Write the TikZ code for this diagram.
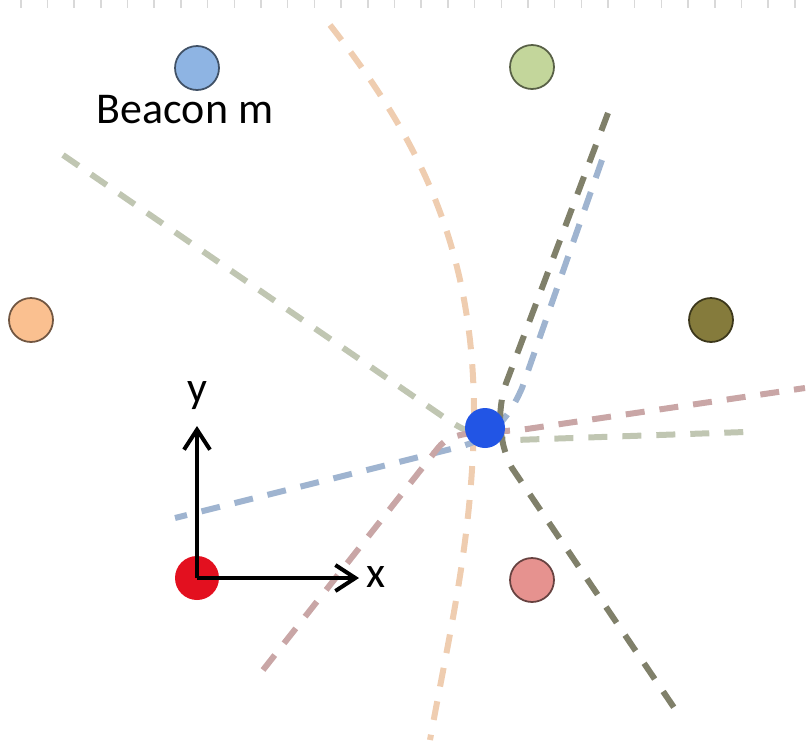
\documentclass[tikz,border=0pt]{standalone}
\usepackage{fontspec}
\setmainfont{Carlito}
\usetikzlibrary{arrows.meta}
\definecolor{bcnBlue}{HTML}{8EB4E3}
\definecolor{bcnGreen}{HTML}{C3D69B}
\definecolor{bcnOrange}{HTML}{FAC090}
\definecolor{bcnOlive}{HTML}{857B3C}
\definecolor{bcnPink}{HTML}{E6928F}
\definecolor{orgRed}{HTML}{E3101F}
\definecolor{tgtBlue}{HTML}{2255E5}
\definecolor{crvOrange}{HTML}{EFCDB0}
\definecolor{crvOlive}{HTML}{80806A}
\definecolor{crvBlue}{HTML}{9FB4D0}
\definecolor{crvPink}{HTML}{C9A6A6}
\definecolor{crvSage}{HTML}{C0C6B2}

\begin{document}
\begin{tikzpicture}[x=0.02cm, y=-0.02cm,
        beacon/.style={circle, minimum size=0.88cm, inner sep=0pt, line width=1pt, fill=#1, draw=#1!45!black},
        hyp/.style={line width=0.12cm, dash pattern=on 0.38cm off 0.3cm, #1},
        axis/.style={line width=0.08cm, -{Straight Barb[length=0.4cm,width=0.52cm]}},
        lbl/.style={font=\fontsize{25}{30}\selectfont, inner sep=0pt, anchor=base}]
        \useasboundingbox (0,0) rectangle (807,744);
        \draw[gray!30, line width=0.15cm, dash pattern=on 0.03cm off 0.504cm] (20,3.75) -- (807,3.75);
        % hyperbolas through the target
        \draw[hyp=crvOrange] (330,25) .. controls (420,140) and (475,250) .. (474,420)
            .. controls (472,540) and (450,630) .. (430,740);
        \draw[hyp=crvSage] (63,155) -- (445,418) .. controls (465,432) and (485,440) .. (515,440) -- (745,432);
        \draw[hyp=crvBlue] (602,160) -- (522,388) .. controls (508,420) and (490,440) .. (455,448) -- (175,518);
        \draw[hyp=crvPink] (263,670) -- (438,448) .. controls (452,430) and (480,433) .. (520,430) -- (805,388);
        \draw[hyp=crvOlive] (608,113) -- (508,378) .. controls (497,405) and (497,440) .. (512,468) -- (677,712);
        % beacons
        \foreach \n/\c/\x/\y in {bm/bcnBlue/197/68, bg/bcnGreen/532/67, bo/bcnOrange/31/320, bk/bcnOlive/711/320, bp/bcnPink/532/580}
            \node[beacon=\c] (\n) at (\x,\y) {};
        \node[lbl] (bmlbl) at (185,123) {Beacon m};
        \node[circle, fill=tgtBlue, minimum size=0.8cm, inner sep=0pt] (tgt) at (485,428) {};
        % local frame
        \node[circle, fill=orgRed, minimum size=0.88cm, inner sep=0pt] (org) at (197,578) {};
        \coordinate (xend) at (359,578); \coordinate (yend) at (197,426);
        \draw[axis] (org.center) -- (xend);
        \draw[axis] (org.center) -- (yend);
        \node[lbl] (xl) at (376,587) {x};
        \node[lbl] (yl) at (197,402) {y};
    \end{tikzpicture}
\end{document}
